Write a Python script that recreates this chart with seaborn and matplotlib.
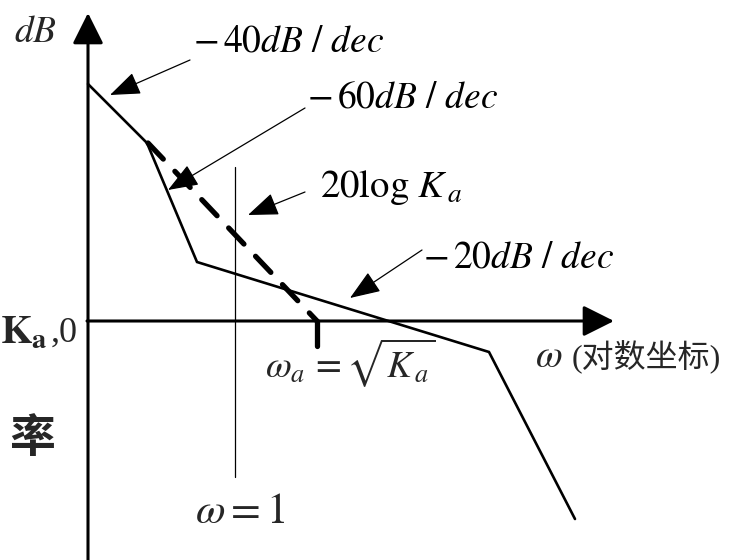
import matplotlib
matplotlib.use("Agg")
import matplotlib.pyplot as plt
import seaborn as sns

# Asymptotic Bode magnitude sketch, drawn in a pixel-like diagram frame
asym_x = [88, 147, 197, 489, 575]
asym_y = [84, 143, 262, 352, 519]

# -40 dB/dec extension down to the crossing at omega_a
ext_x = [148, 317]
ext_y = [143, 321]

# marker at omega_a = sqrt(Ka)
wa_x = [317, 317]
wa_y = [321, 346]

# reference line at omega = 1
w1_x = [235, 235]
w1_y = [167, 477]

# axes: origin, end of omega axis, top of dB axis, bottom of dB axis
origin = (88, 321)
x_end = 614
y_top = 13
y_bottom = 560

# slope labels: (text, left x, baseline y, size)
labels = [
    (r"$-\,40dB\ /\ dec$", 193, 52, 27),
    (r"$-\,60dB\ /\ dec$", 307, 108, 27),
    (r"$20\log\,K_{\,a}$", 320, 197, 28),
    (r"$-\,20dB\ /\ dec$", 423, 267, 27),
]

# leader arrows: (tail, head)
leaders = [
    ((190, 60), (110, 95)),
    ((305, 108), (168, 190)),
    ((305, 192), (248, 215)),
    ((422, 250), (350, 298)),
]

sns.set_theme(style="white")
plt.rcParams["mathtext.fontset"] = "stix"
plt.rcParams["font.family"] = ["Liberation Serif", "Noto Sans CJK SC", "DejaVu Sans"]

fig = plt.figure(figsize=(7.29, 5.6), dpi=100)
ax = fig.add_axes([0, 0, 1, 1])
ax.set_xlim(0, 729)
ax.set_ylim(560, 0)
ax.axis("off")

# coordinate axes with filled arrow heads
axis_arrow = dict(arrowstyle="-|>,head_length=1.0,head_width=0.5", lw=2.2,
                  color="black", mutation_scale=19, shrinkA=0, shrinkB=0)
ax.annotate("", xy=(x_end, origin[1]), xytext=(origin[0] - 1, origin[1]), arrowprops=axis_arrow)
ax.annotate("", xy=(origin[0], y_top), xytext=(origin[0], y_bottom), arrowprops=axis_arrow)

# asymptotes
sns.lineplot(x=asym_x, y=asym_y, sort=False, estimator=None, color="black",
             lw=1.9, ax=ax, solid_joinstyle="miter")
sns.lineplot(x=ext_x, y=ext_y, sort=False, estimator=None, color="black",
             lw=3.8, ax=ax, linestyle=(0, (4.2, 3.2)), dash_capstyle="round")
ax.plot(wa_x, wa_y, color="black", lw=3.8, solid_capstyle="round")
ax.plot(w1_x, w1_y, color="black", lw=0.9)

# leader arrows for labels
lead_arrow = dict(arrowstyle="-|>,head_length=1.0,head_width=0.38", lw=0.9,
                  color="black", mutation_scale=19, shrinkA=0, shrinkB=0)
for tail, head in leaders:
    ax.annotate("", xy=head, xytext=tail, arrowprops=lead_arrow)

for text, lx, by, size in labels:
    ax.text(lx, by, text, fontsize=size, ha="left", va="baseline", color="black")

ax.text(14, 42, r"$dB$", fontsize=27, ha="left", va="baseline")
ax.text(535, 367, r"$\omega$", fontsize=28, ha="left", va="baseline")
ax.text(572, 367, "(对数坐标)", fontsize=23, ha="left", va="baseline",
        family=["Liberation Serif", "Noto Sans CJK SC", "DejaVu Sans"])
ax.text(265, 377, r"$\omega_{a}\,=\sqrt{K_{\,a}}$", fontsize=27, ha="left", va="baseline")
ax.text(195, 523, r"$\omega = 1$", fontsize=31, ha="left", va="baseline")

# fragments at the left edge
ax.text(0, 343, r"$\mathbf{K_{a}}$", fontsize=29, ha="left", va="baseline")
ax.text(51, 342, ",0", fontsize=26, ha="left", va="baseline")
ax.text(9, 452, "率", fontsize=33, ha="left", va="baseline", fontweight="bold",
        family=["Noto Sans CJK SC", "DejaVu Sans"])

fig.savefig("out.png", dpi=100)
